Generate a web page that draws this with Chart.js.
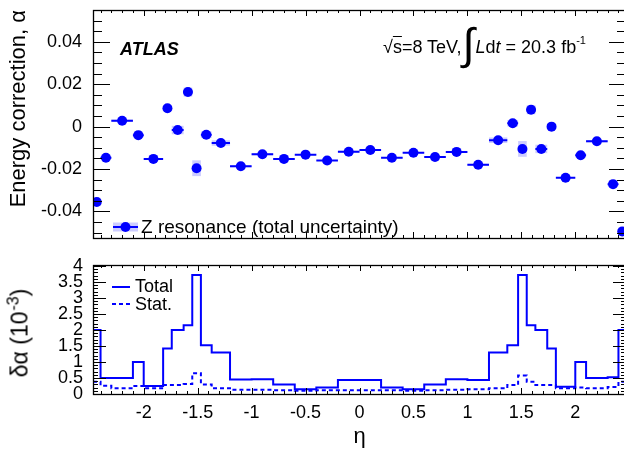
<!DOCTYPE html>
<html lang="en">
<head>
<meta charset="UTF-8" />
<title>Energy correction alpha vs eta</title>
<script src="https://cdn.jsdelivr.net/npm/chart.js@4.4.1/dist/chart.umd.min.js"></script>
<style>
  html, body { margin: 0; padding: 0; background: #fff; }
  body { width: 624px; height: 449px; overflow: hidden; position: relative; font-family: "Liberation Sans", Arial, sans-serif; color: #000; }
  canvas { position: absolute; left: 0; }
  #top-chart { top: 0; }
  #bottom-chart { top: 250px; }
  .txt { position: absolute; white-space: nowrap; line-height: 1; font-size: 18px; }
  .atlas { left: 120px; top: 40px; font-weight: bold; font-style: italic; font-size: 18px; }
  .lumi { left: 383px; top: 38px; }
  .lumi .ov { text-decoration: overline; }
  .lumi .int { font-size: 44px; line-height: 0; position: relative; top: 6px; margin: 0 1px 0 1px; }
  .lumi sup { font-size: 11px; line-height: 0; position: relative; top: -2px; }
  .leg-z { left: 141px; top: 217px; font-size: 19px; }
  .leg-tot { left: 135px; top: 277px; }
  .leg-stat { left: 135px; top: 295px; }
  .ytitle2 { left: 20px; top: 333px; font-size: 23px; transform: translate(-50%, -50%) rotate(-90deg); }
  .ytitle2 sup { font-size: 16px; line-height: 0; margin-left: 1px; }
</style>
</head>
<body>
<canvas id="top-chart" width="640" height="250"></canvas>
<canvas id="bottom-chart" width="640" height="199"></canvas>

<div class="txt atlas">ATLAS</div>
<div class="txt lumi">√<span class="ov">s</span>=8 TeV,<span class="int">∫</span><i>L</i>d<i>t</i> = 20.3 fb<sup>-1</sup></div>
<div class="txt leg-z">Z resonance (total uncertainty)</div>
<div class="txt leg-tot">Total</div>
<div class="txt leg-stat">Stat.</div>
<div class="txt ytitle2">δα (10<sup>-3</sup>)</div>

<script>
// eta bin edges (34 bins)
const binEdges = [-2.47, -2.4, -2.3, -2.1, -2.0, -1.82, -1.74, -1.63, -1.55, -1.47, -1.37, -1.2, -1.0, -0.8, -0.6, -0.4, -0.2, 0,
  0.2, 0.4, 0.6, 0.8, 1.0, 1.2, 1.37, 1.47, 1.55, 1.63, 1.74, 1.82, 2.0, 2.1, 2.3, 2.4, 2.47]

// energy correction alpha per bin
const alpha = [-0.0355, -0.0147, 0.0028, -0.004, -0.0152, 0.0087, -0.0016, 0.0163, -0.0196, -0.0038, -0.0077, -0.0187,
  -0.013, -0.0152, -0.0132, -0.016, -0.0118, -0.011, -0.0147, -0.0123, -0.0143, -0.0119, -0.018, -0.0064,
  0.0016, -0.0105, 0.008, -0.0105, 0.0, -0.0241, -0.0135, -0.0069, -0.0271, -0.0494]

// uncertainties on alpha, in units of 1e-3
const totalUnc = [2.0, 0.5, 0.5, 1.0, 0.25, 1.42, 2.0, 2.15, 3.72, 1.52, 1.3, 0.45, 0.46, 0.3, 0.15, 0.2, 0.44,
  0.44, 0.2, 0.15, 0.3, 0.46, 0.44, 1.3, 1.52, 3.72, 2.15, 2.0, 1.42, 0.23, 1.0, 0.5, 0.52, 2.0]
const statUnc = [0.38, 0.26, 0.18, 0.25, 0.18, 0.28, 0.28, 0.31, 0.65, 0.3, 0.18, 0.13, 0.13, 0.12, 0.1, 0.12, 0.12,
  0.12, 0.12, 0.1, 0.12, 0.13, 0.15, 0.18, 0.28, 0.58, 0.38, 0.28, 0.28, 0.18, 0.2, 0.18, 0.22, 0.38]

// tick labels
const etaTicks = [-2, -1.5, -1, -0.5, 0, 0.5, 1, 1.5, 2]
const alphaTicks = [-0.04, -0.02, 0, 0.02, 0.04]
const deltaTicks = [0, 0.5, 1, 1.5, 2, 2.5, 3, 3.5, 4]

const BLUE = '#0000ff'
const FONT = '"Liberation Sans", Arial, sans-serif'
Chart.defaults.font.family = FONT
Chart.defaults.color = '#000'

function stepValues(min, max, step) {
  const out = []
  for (let k = Math.ceil(min / step - 1e-9); k * step <= max + 1e-9; k++) out.push(+(k * step).toFixed(6))
  return out
}

// keep label overflow from shrinking the plot area
function noAxisPadding(s) {
  s.paddingTop = 0
  s.paddingBottom = 0
  s.paddingLeft = 0
  s.paddingRight = 0
}

// ROOT style frame with inward ticks on all four sides
const frameTicks = {
  id: 'frameTicks',
  afterDraw(chart, args, o) {
    const { ctx, chartArea: a, scales: { x, y } } = chart
    const isMajor = (list, v) => list.some(m => Math.abs(m - v) < 1e-9)
    ctx.save()
    ctx.strokeStyle = '#000'
    ctx.lineWidth = 1
    ctx.beginPath()
    stepValues(x.min, x.max, o.xStep).forEach(v => {
      const px = Math.round(x.getPixelForValue(v)) + 0.5
      const len = isMajor(o.xMajor, v) ? o.xMajorLen : o.xMinorLen
      ctx.moveTo(px, a.bottom); ctx.lineTo(px, a.bottom - len)
      ctx.moveTo(px, a.top); ctx.lineTo(px, a.top + len)
    })
    stepValues(y.min, y.max, o.yStep).forEach(v => {
      const py = Math.round(y.getPixelForValue(v)) + 0.5
      const len = isMajor(o.yMajor, v) ? o.yMajorLen : o.yMinorLen
      ctx.moveTo(a.left, py); ctx.lineTo(a.left + len, py)
      ctx.moveTo(a.right, py); ctx.lineTo(a.right - len, py)
    })
    ctx.stroke()
    ctx.lineWidth = 1.3
    ctx.strokeRect(a.left + 0.5, a.top + 0.5, a.right - a.left, a.bottom - a.top)
    ctx.restore()
  }
}

// total uncertainty boxes behind the markers
const uncBoxes = {
  id: 'uncBoxes',
  beforeDatasetsDraw(chart) {
    const { ctx, chartArea: a, scales: { x, y } } = chart
    ctx.save()
    ctx.beginPath()
    ctx.rect(a.left, a.top, a.right - a.left, a.bottom - a.top)
    ctx.clip()
    ctx.fillStyle = 'rgba(0, 0, 255, 0.2)'
    alpha.forEach((v, i) => {
      const d = totalUnc[i] * 1e-3
      const x0 = x.getPixelForValue(binEdges[i])
      const x1 = x.getPixelForValue(binEdges[i + 1])
      const y0 = y.getPixelForValue(v + d)
      const y1 = y.getPixelForValue(v - d)
      ctx.fillRect(x0, y0, x1 - x0, y1 - y0)
    })
    ctx.restore()
  }
}

// legend samples
const legendSamples = {
  id: 'legendSamples',
  afterDraw(chart, args, o) {
    const ctx = chart.ctx
    ctx.save()
    o.items.forEach(it => {
      if (it.box) {
        ctx.fillStyle = 'rgba(0, 0, 255, 0.2)'
        ctx.fillRect(it.x0, it.y - 4.5, it.x1 - it.x0, 9)
      }
      ctx.strokeStyle = BLUE
      ctx.lineWidth = 2
      ctx.setLineDash(it.dash || [])
      ctx.beginPath()
      ctx.moveTo(it.x0, it.y)
      ctx.lineTo(it.x1, it.y)
      ctx.stroke()
      if (it.dot) {
        ctx.fillStyle = BLUE
        ctx.beginPath()
        ctx.arc((it.x0 + it.x1) / 2, it.y, 5, 0, Math.PI * 2)
        ctx.fill()
      }
    })
    ctx.restore()
  }
}

const centers = alpha.map((v, i) => (binEdges[i] + binEdges[i + 1]) / 2)
const pointData = alpha.map((v, i) => ({ x: centers[i], y: v }))
const binBars = []
alpha.forEach((v, i) => {
  binBars.push({ x: binEdges[i], y: v }, { x: binEdges[i + 1], y: v }, { x: binEdges[i + 1], y: null })
})

// histogram outline: segment [edge i, edge i+1] takes the value of bin i
function stepData(vals) {
  return binEdges.map((e, i) => ({ x: e, y: vals[Math.max(i - 1, 0)] }))
}

const common = {
  responsive: false,
  animation: false,
  devicePixelRatio: 1,
  events: [],
  plugins: { legend: { display: false }, tooltip: { enabled: false } }
}

// top panel
new Chart(document.getElementById('top-chart'), {
  type: 'line',
  data: {
    datasets: [
      { data: pointData, showLine: false, pointRadius: 5, pointBackgroundColor: BLUE, pointBorderWidth: 0 },
      { data: binBars, borderColor: BLUE, borderWidth: 2, pointRadius: 0, spanGaps: false }
    ]
  },
  options: {
    ...common,
    layout: { padding: { left: 0, right: 14, top: 10, bottom: 0 } },
    scales: {
      x: {
        type: 'linear', min: -2.47, max: 2.47,
        grid: { display: false, drawTicks: false }, border: { display: false },
        ticks: { display: false },
        afterFit(s) { s.height = 12; noAxisPadding(s) }
      },
      y: {
        min: -0.0525, max: 0.055,
        grid: { display: false, drawTicks: false }, border: { display: false },
        afterBuildTicks(s) { s.ticks = alphaTicks.map(v => ({ value: v })) },
        ticks: { padding: 11, font: { size: 18 }, callback: v => (v === 0 ? '0' : v.toFixed(2)) },
        title: { display: true, text: 'Energy correction, α', align: 'end', font: { size: 22 }, padding: { top: 6, bottom: 0 } },
        afterFit(s) { s.width = 93; noAxisPadding(s) }
      }
    },
    plugins: {
      ...common.plugins,
      frameTicks: { xMajor: etaTicks, xStep: 0.1, xMajorLen: 6, xMinorLen: 3, yMajor: alphaTicks, yStep: 0.005, yMajorLen: 17, yMinorLen: 9 },
      legendSamples: { items: [{ x0: 113, x1: 138, y: 227, box: true, dot: true }] }
    }
  },
  plugins: [uncBoxes, frameTicks, legendSamples]
})

// bottom panel
new Chart(document.getElementById('bottom-chart'), {
  type: 'line',
  data: {
    datasets: [
      { data: stepData(totalUnc), stepped: 'after', borderColor: BLUE, borderWidth: 2, pointRadius: 0 },
      { data: stepData(statUnc), stepped: 'after', borderColor: BLUE, borderWidth: 2, borderDash: [4, 3], pointRadius: 0 }
    ]
  },
  options: {
    ...common,
    layout: { padding: { left: 0, right: 14, top: 15, bottom: 0 } },
    scales: {
      x: {
        type: 'linear', min: -2.47, max: 2.47,
        grid: { display: false, drawTicks: false }, border: { display: false },
        afterBuildTicks(s) { s.ticks = etaTicks.map(v => ({ value: v })) },
        ticks: { padding: 8, font: { size: 18 }, maxRotation: 0, autoSkip: false, callback: v => String(v) },
        title: { display: true, text: 'η', font: { size: 22, lineHeight: 1.1 }, padding: { top: 0, bottom: 0 } },
        afterFit(s) { s.height = 55; noAxisPadding(s) }
      },
      y: {
        min: 0, max: 4.03,
        grid: { display: false, drawTicks: false }, border: { display: false },
        afterBuildTicks(s) { s.ticks = deltaTicks.map(v => ({ value: v })) },
        ticks: { padding: 10, font: { size: 18 }, autoSkip: false, callback: v => String(v) },
        afterFit(s) { s.width = 93; noAxisPadding(s) }
      }
    },
    plugins: {
      ...common.plugins,
      frameTicks: { xMajor: etaTicks, xStep: 0.1, xMajorLen: 6, xMinorLen: 3, yMajor: deltaTicks, yStep: 0.1, yMajorLen: 13, yMinorLen: 5 },
      legendSamples: { items: [{ x0: 112, x1: 130, y: 37 }, { x0: 112, x1: 130, y: 54, dash: [4, 3] }] }
    }
  },
  plugins: [frameTicks, legendSamples]
})
</script>
</body>
</html>
